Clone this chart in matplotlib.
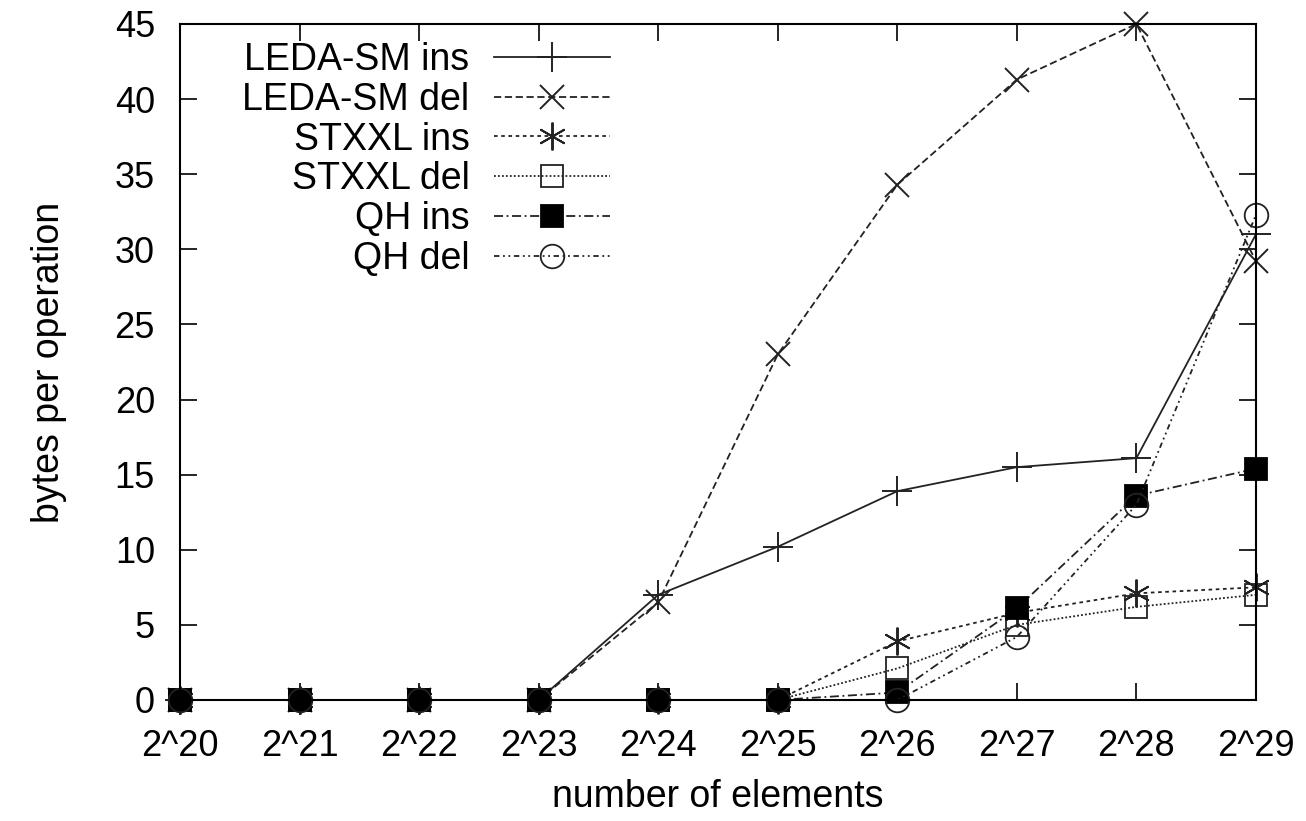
import numpy as np
import matplotlib
matplotlib.use("Agg")
import matplotlib.pyplot as plt

plt.rcParams['font.family'] = ['Liberation Sans', 'DejaVu Sans']

# x categories: 2^20 .. 2^29
tick_labels = ["2^20", "2^21", "2^22", "2^23", "2^24", "2^25", "2^26", "2^27", "2^28", "2^29"]
x = np.arange(20, 30)

leda_ins = [0, 0, 0, 0, 7.0, 10.2, 13.9, 15.5, 16.1, 31.0]
leda_del = [0, 0, 0, 0, 6.5, 23.0, 34.3, 41.3, 45.0, 29.2]
stxxl_ins = [0, 0, 0, 0, 0, 0, 3.9, 5.8, 7.1, 7.5]
stxxl_del = [0, 0, 0, 0, 0, 0, 2.1, 5.0, 6.2, 7.0]
qh_ins = [0, 0, 0, 0, 0, 0, 0.5, 6.1, 13.6, 15.4]
qh_del = [0, 0, 0, 0, 0, 0, 0.0, 4.2, 13.0, 32.3]

fig = plt.figure(figsize=(13.06, 8.21), dpi=100)
ax = fig.add_axes([0.1378, 0.1474, 0.8239, 0.8234])

col = "#222222"
lw = 1.3
ax.plot(x, leda_ins, color=col, lw=lw, ls="-", marker="+", ms=22, mew=1.4,
        label="LEDA-SM ins", clip_on=False)
ax.plot(x, leda_del, color=col, lw=lw, ls=(0, (4, 2)), marker="x", ms=17, mew=1.4,
        label="LEDA-SM del", clip_on=False)
ax.plot(x, stxxl_ins, color=col, lw=lw, ls=(0, (2, 2)), marker=(6, 2, 0), ms=20, mew=1.4,
        label="STXXL ins", clip_on=False)
ax.plot(x, stxxl_del, color=col, lw=lw, ls=(0, (1, 1.2)), marker="s", ms=16, mew=1.3,
        mfc="none", label="STXXL del", clip_on=False)
ax.plot(x, qh_ins, color=col, lw=lw, ls=(0, (5, 2, 1, 2)), marker="s", ms=16, mew=1.3,
        mfc="black", mec="black", label="QH ins", clip_on=False)
ax.plot(x, qh_del, color=col, lw=lw, ls=(0, (3, 2, 1, 2, 1, 2)), marker="o", ms=17,
        mew=1.3, mfc="none", label="QH del", clip_on=False)

ax.set_xlim(20, 29)
ax.set_ylim(0, 45)
ax.set_xticks(x)
ax.set_xticklabels(tick_labels)
ax.set_yticks(np.arange(0, 46, 5))
ax.tick_params(axis="both", direction="in", length=12, width=1.2, labelsize=26,
               top=True, right=True)
ax.tick_params(axis="x", pad=21)
ax.tick_params(axis="y", pad=18)
for s in ax.spines.values():
    s.set_linewidth(1.5)

ax.set_xlabel("number of elements", fontsize=27, labelpad=11)
ax.set_ylabel("bytes per operation", fontsize=27, labelpad=34)

leg = ax.legend(loc="upper right", bbox_to_anchor=(610 / 1306, 1 - 42 / 821),
                bbox_transform=fig.transFigure, frameon=False,
                markerfirst=False, fontsize=27, handlelength=3.1, labelspacing=0.1,
                handletextpad=0.65, borderpad=0.0, borderaxespad=0.0)
for t in leg.get_texts():
    t.set_ha("right")

fig.savefig("out.png", dpi=100)
